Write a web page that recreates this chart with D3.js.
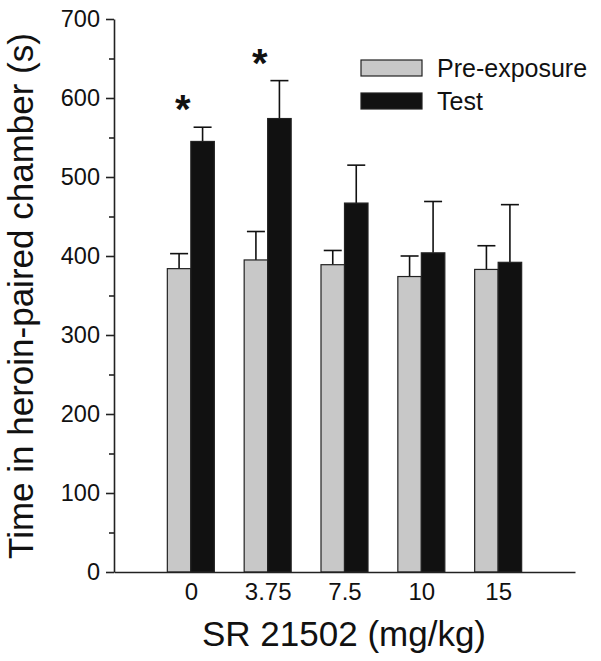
<!DOCTYPE html>
<html>
<head>
<meta charset="utf-8">
<script src="https://cdn.jsdelivr.net/npm/d3@7"></script>
<style>
  html, body { margin: 0; padding: 0; background: #fff; }
  svg text { font-family: Arial, "Liberation Sans", sans-serif; fill: #111; }
</style>
</head>
<body>
<svg id="chart" width="601" height="661"></svg>
<script>
const categories = ["0", "3.75", "7.5", "10", "15"];
const preMean = [384, 395, 389, 374, 383];
const preErr = [403, 431, 407, 400, 413];
const testMean = [545, 574, 467, 404, 392];
const testErr = [563, 622, 515, 469, 465];
const significant = [true, true, false, false, false];
const yMajorTicks = [0, 100, 200, 300, 400, 500, 600, 700];
const yMinorTicks = [50, 150, 250, 350, 450, 550, 650];
const seriesNames = ["Pre-exposure", "Test"];
const seriesColors = ["#c8c8c8", "#111111"];

const svg = d3.select("#chart");
const x = d3.scalePoint().domain(categories).range([114, 575]).padding(1);
const y = d3.scaleLinear().domain([0, 700]).range([572, 19]);
const barW = 23.5;
const capW = 18;

const series = [
  { name: seriesNames[0], mean: preMean, err: preErr, color: seriesColors[0], off: -barW },
  { name: seriesNames[1], mean: testMean, err: testErr, color: seriesColors[1], off: 0 }
];

series.forEach(s => {
  const g = svg.append("g");
  categories.forEach((c, i) => {
    const x0 = x(c) + s.off;
    const xc = x0 + barW / 2;
    g.append("line").attr("x1", xc).attr("x2", xc)
      .attr("y1", y(s.mean[i])).attr("y2", y(s.err[i]))
      .attr("stroke", "#111").attr("stroke-width", 1.6);
    g.append("line").attr("x1", xc - capW / 2).attr("x2", xc + capW / 2)
      .attr("y1", y(s.err[i])).attr("y2", y(s.err[i]))
      .attr("stroke", "#111").attr("stroke-width", 1.6);
    g.append("rect")
      .attr("x", x0).attr("y", y(s.mean[i]))
      .attr("width", barW).attr("height", y(0) - y(s.mean[i]))
      .attr("fill", s.color).attr("stroke", "#222").attr("stroke-width", 1.2);
  });
});

categories.forEach((c, i) => {
  if (significant[i]) {
    svg.append("text")
      .attr("x", x(c) - 8).attr("y", y(testErr[i]) - 4)
      .attr("text-anchor", "middle")
      .style("font-size", "40px").style("font-weight", "bold")
      .text("*");
  }
});

const yAxis = svg.append("g").attr("transform", "translate(114,0)")
  .call(d3.axisLeft(y).tickValues(yMajorTicks).tickSize(8).tickSizeOuter(0).tickPadding(6).tickFormat(d3.format("d")));
yAxis.select(".domain").attr("stroke", "#222").attr("stroke-width", 1.6);
yAxis.selectAll(".tick line").attr("stroke", "#222").attr("stroke-width", 1.6);
yAxis.selectAll(".tick text").style("font-size", "23.5px").style("font-family", "Arial, 'Liberation Sans', sans-serif").attr("fill", "#111");
const yMinor = svg.append("g").attr("transform", "translate(114,0)")
  .call(d3.axisLeft(y).tickValues(yMinorTicks).tickSize(5).tickSizeOuter(0).tickFormat(""));
yMinor.select(".domain").remove();
yMinor.selectAll(".tick line").attr("stroke", "#222").attr("stroke-width", 1.6);

const xAxis = svg.append("g").attr("transform", `translate(0,${y(0)})`)
  .call(d3.axisBottom(x).tickSize(0).tickSizeOuter(0).tickPadding(11));
xAxis.select(".domain").attr("stroke", "#222").attr("stroke-width", 1.6);
xAxis.selectAll(".tick text").style("font-size", "24px").style("font-family", "Arial, 'Liberation Sans', sans-serif").attr("fill", "#111");

svg.append("text")
  .attr("x", 344).attr("y", 646)
  .attr("text-anchor", "middle")
  .style("font-size", "35px")
  .text("SR 21502 (mg/kg)");
svg.append("text")
  .attr("transform", "translate(33,296) rotate(-90)")
  .attr("text-anchor", "middle")
  .style("font-size", "35px")
  .text("Time in heroin-paired chamber (s)");

const legend = svg.append("g");
series.forEach((s, i) => {
  legend.append("rect")
    .attr("x", 361).attr("y", 60 + i * 33)
    .attr("width", 61).attr("height", 16)
    .attr("fill", s.color).attr("stroke", "#222").attr("stroke-width", 1.2);
  legend.append("text")
    .attr("x", 437).attr("y", 77 + i * 33)
    .style("font-size", "25px")
    .text(s.name);
});
</script>
</body>
</html>
